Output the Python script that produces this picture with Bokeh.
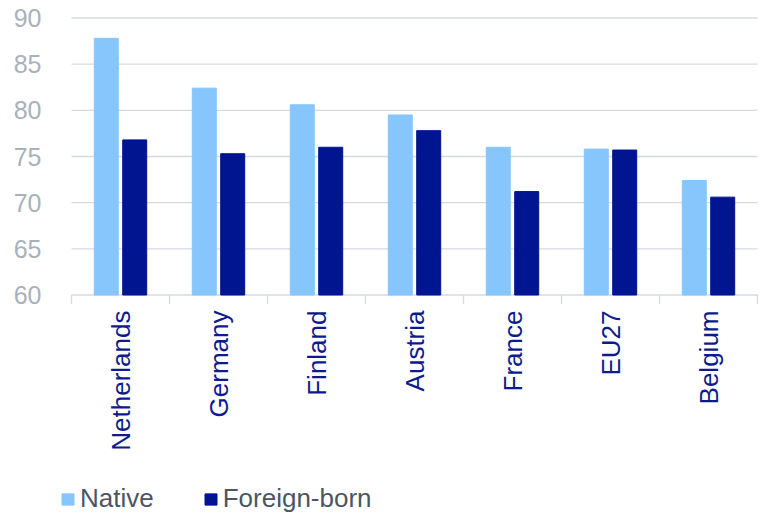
import math
from bokeh.plotting import figure
from bokeh.models import Range1d, FixedTicker, Legend, LegendItem
from bokeh.core.properties import value
from bokeh.embed import file_html
from bokeh.resources import INLINE

categories = ["Netherlands", "Germany", "Finland", "Austria", "France", "EU27", "Belgium"]
native = [87.8, 82.4, 80.6, 79.5, 76.0, 75.8, 72.4]
foreign_born = [76.8, 75.3, 76.0, 77.8, 71.2, 75.7, 70.6]
y_ticks = [60, 65, 70, 75, 80, 85, 90]
series_names = ["Native", "Foreign-born"]

NATIVE_COLOR = "#86c6fd"
FOREIGN_COLOR = "#00158f"
GRID_COLOR = "#d6dadf"
FONT = "Liberation Sans"

W, H = 759, 514
FRAME_LEFT = 60          # frame starts here (legend aligned to it)
CAT_LEFT, CAT_RIGHT = 71, 757   # pixel extent of the category band
TOP_PX, BASE_PX = 17.5, 294.5   # pixel rows of the top and bottom ticks

n = len(categories)
centers = [i + 1 for i in range(n)]
boundaries = [i + 0.5 for i in range(n + 1)]
y_lo, y_hi = y_ticks[0], y_ticks[-1]

# ranges chosen so that the plotting band sits where it does in the reference
xppu = (CAT_RIGHT - CAT_LEFT) / n
x_start = 0.5 - (CAT_LEFT - FRAME_LEFT) / xppu
x_end = n + 0.5 + (W - CAT_RIGHT) / xppu
yppu = (BASE_PX - TOP_PX) / (y_hi - y_lo)
y_end = y_hi + TOP_PX / yppu
y_start = y_lo - (H - BASE_PX) / yppu

p = figure(width=W, height=H, output_backend="svg", toolbar_location=None,
           x_range=Range1d(x_start, x_end), y_range=Range1d(y_start, y_end),
           x_axis_location=None,
           min_border_left=FRAME_LEFT, min_border_right=0, min_border_top=0, min_border_bottom=0)
p.outline_line_color = None
p.background_fill_color = "white"
p.border_fill_color = "white"
p.xgrid.grid_line_color = None
p.ygrid.grid_line_color = None

# horizontal grid lines across the category band (the one at 60 is the axis line)
p.segment(x0=[boundaries[0]] * len(y_ticks), x1=[boundaries[-1]] * len(y_ticks),
          y0=y_ticks, y1=y_ticks, line_color=GRID_COLOR, line_width=1.3)
# category separator ticks below the axis line
tick_len = 9 / yppu
p.segment(x0=boundaries, x1=boundaries, y0=[y_lo] * len(boundaries),
          y1=[y_lo - tick_len] * len(boundaries), line_color=GRID_COLOR, line_width=1.3)

bw = 0.245
off = 0.145
r1 = p.vbar(x=[c - off for c in centers], top=native, bottom=y_lo, width=bw,
            fill_color=NATIVE_COLOR, line_color=NATIVE_COLOR)
r2 = p.vbar(x=[c + off for c in centers], top=foreign_born, bottom=y_lo, width=bw,
            fill_color=FOREIGN_COLOR, line_color=FOREIGN_COLOR)

# category labels, reading bottom-to-top, ending just below the axis line
label_y = y_lo - 15.5 / yppu
p.text(x=centers, y=[label_y] * n, text=categories, angle=math.pi / 2,
       text_align="right", text_baseline="middle",
       text_font=value(FONT), text_font_size=value("26px"), text_color="#0d1b8c")

# y axis
ya = p.yaxis[0]
ya.ticker = FixedTicker(ticks=y_ticks)
ya.axis_line_color = None
ya.major_tick_line_color = None
ya.minor_tick_line_color = None
ya.major_label_text_font = FONT
ya.major_label_text_font_size = "25px"
ya.major_label_text_color = "#a9b1bb"
ya.major_label_standoff = 13

legend = Legend(items=[LegendItem(label=series_names[0], renderers=[r1]),
                       LegendItem(label=series_names[1], renderers=[r2])],
                location="bottom_left", orientation="horizontal")
legend.background_fill_alpha = 0
legend.border_line_color = None
legend.padding = 0
legend.margin = 0
legend.spacing = 49
legend.glyph_width = 15
legend.glyph_height = 14
legend.label_standoff = 5
legend.label_text_font = FONT
legend.label_text_font_size = "26px"
legend.label_text_color = "#4a5566"
p.add_layout(legend, "center")

open("out.html", "w").write(file_html(p, INLINE))
